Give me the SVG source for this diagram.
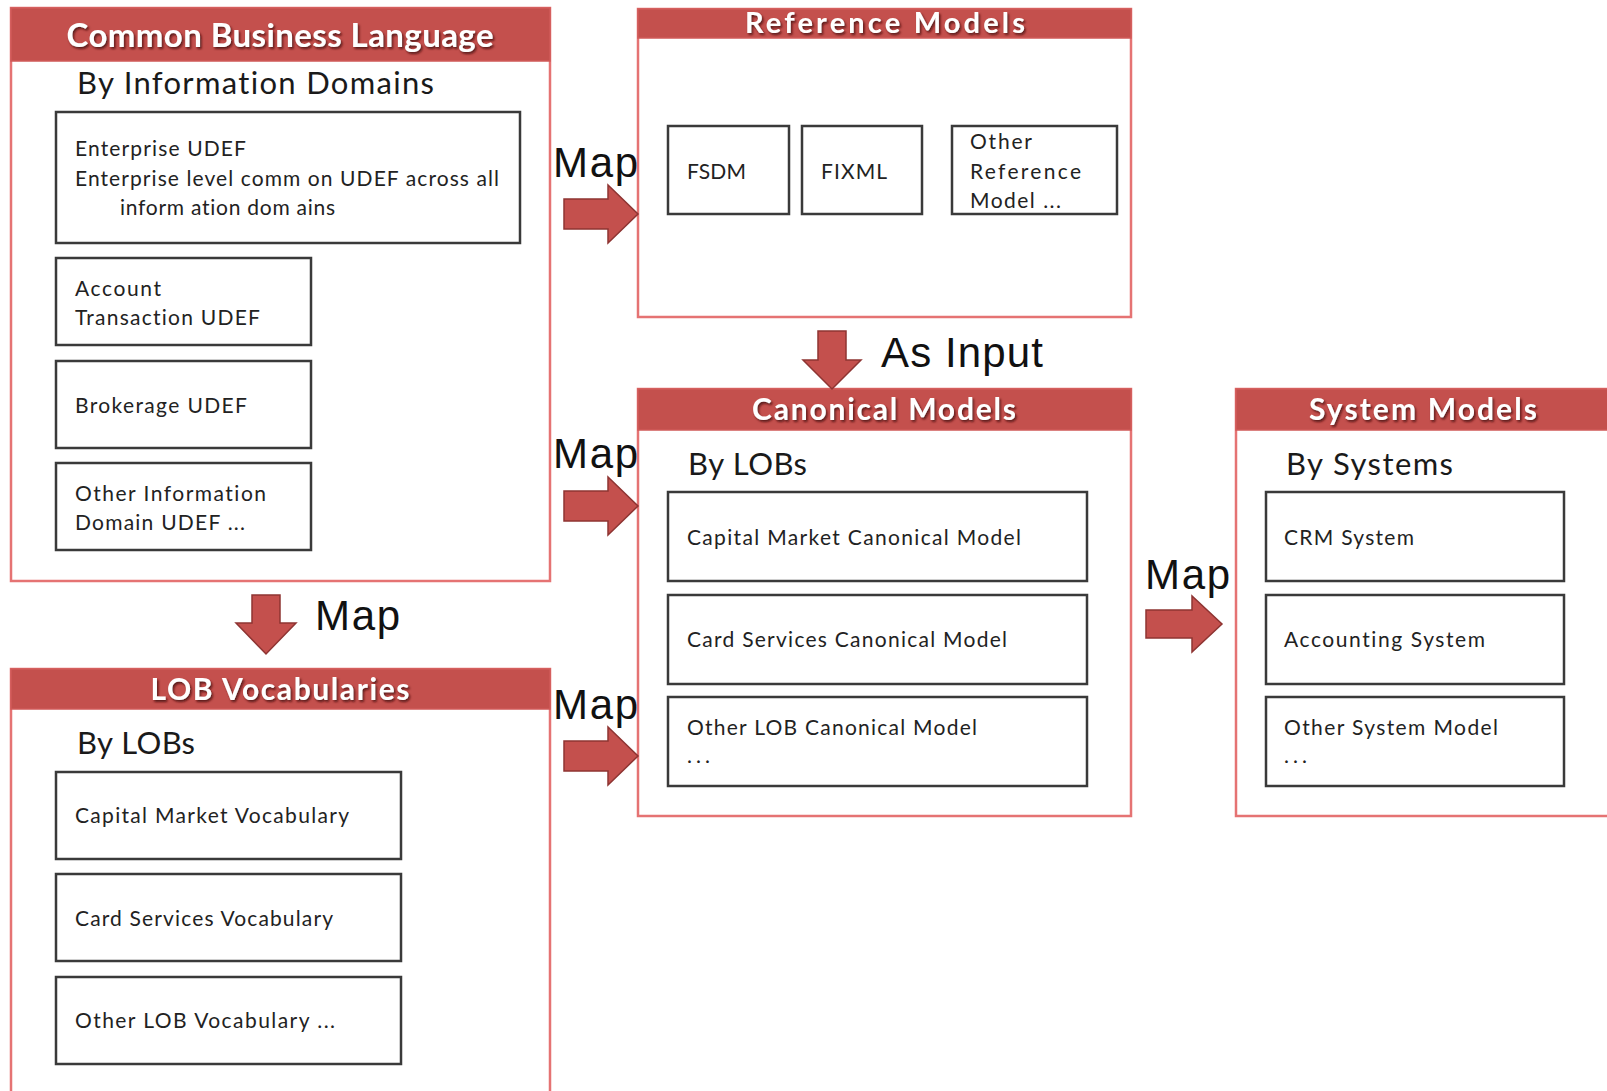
<svg xmlns="http://www.w3.org/2000/svg" width="1607" height="1091" viewBox="0 0 1607 1091">
<defs>
<filter id="sh" x="-5%" y="-20%" width="110%" height="150%">
<feDropShadow dx="1.5" dy="2" stdDeviation="0.8" flood-color="#4a1010" flood-opacity="0.85"/>
</filter>
</defs>
<style>
text{font-variant-ligatures:none}
.outer{fill:#ffffff;stroke:#e57373;stroke-width:2.5}
.hdr{fill:#c4504d;stroke:#d05a58;stroke-width:1.5}
.title{font-family:Lato,"Open Sans",sans-serif;font-weight:bold;fill:#ffffff;text-anchor:middle}
.head{font-family:Lato,"Open Sans",sans-serif;font-size:31px;fill:#1a1a1a}
.inner{fill:#ffffff;stroke:#3a3a3a;stroke-width:2.5}
.t{font-family:Lato,"Open Sans",sans-serif;font-size:21px;fill:#222222}
.map{font-family:"Liberation Sans",Arial,sans-serif;font-size:42px;fill:#111111}
.arrow{fill:#c4504d;stroke:#8e3432;stroke-width:1.5;stroke-linejoin:miter}
</style>

<g id="cbl">
<rect class="outer" x="11" y="8" width="539" height="573"/>
<rect class="hdr" x="11" y="8" width="539" height="53"/>
<text class="title" x="280" y="47" font-size="33" textLength="427" lengthAdjust="spacing" filter="url(#sh)">Common Business Language</text>
<text class="head" x="77" y="94" textLength="357" lengthAdjust="spacing">By Information Domains</text>
</g>
<g id="enterprise-udef">
<rect class="inner" x="56" y="112" width="464" height="131"/>
<text class="t" x="75" y="156" textLength="171" lengthAdjust="spacing">Enterprise UDEF</text>
<text class="t" x="75" y="186" textLength="424" lengthAdjust="spacing">Enterprise level comm on UDEF across all</text>
<text class="t" x="120" y="215" textLength="215" lengthAdjust="spacing">inform ation dom ains</text>
</g>
<g id="account-udef">
<rect class="inner" x="56" y="258" width="255" height="87"/>
<text class="t" x="75" y="296" textLength="86" lengthAdjust="spacing">Account</text>
<text class="t" x="75" y="325" textLength="185" lengthAdjust="spacing">Transaction  UDEF</text>
</g>
<g id="brokerage-udef">
<rect class="inner" x="56" y="361" width="255" height="87"/>
<text class="t" x="75" y="413" textLength="172" lengthAdjust="spacing">Brokerage UDEF</text>
</g>
<g id="other-domain-udef">
<rect class="inner" x="56" y="463" width="255" height="87"/>
<text class="t" x="75" y="501" textLength="191" lengthAdjust="spacing">Other Information</text>
<text class="t" x="75" y="530" textLength="170" lengthAdjust="spacing">Domain UDEF ...</text>
</g>

<g id="reference-models">
<rect class="outer" x="638" y="9" width="493" height="308"/>
<rect class="hdr" x="638" y="9" width="493" height="29"/>
<text class="title" x="885" y="33" font-size="29" textLength="280" lengthAdjust="spacing" filter="url(#sh)">Reference  Models</text>
</g>
<g id="fsdm">
<rect class="inner" x="668" y="126" width="121" height="88"/>
<text class="t" x="687" y="179" textLength="59" lengthAdjust="spacing">FSDM</text>
</g>
<g id="fixml">
<rect class="inner" x="802" y="126" width="120" height="88"/>
<text class="t" x="821" y="179" textLength="66" lengthAdjust="spacing">FIXML</text>
</g>
<g id="other-reference">
<rect class="inner" x="952" y="126" width="165" height="88"/>
<text class="t" x="970" y="149" textLength="62" lengthAdjust="spacing">Other</text>
<text class="t" x="970" y="179" textLength="111" lengthAdjust="spacing">Reference</text>
<text class="t" x="970" y="208" textLength="91" lengthAdjust="spacing">Model ...</text>
</g>

<g id="canonical-models">
<rect class="outer" x="638" y="389" width="493" height="427"/>
<rect class="hdr" x="638" y="389" width="493" height="41"/>
<text class="title" x="884" y="420" font-size="30" textLength="264" lengthAdjust="spacing" filter="url(#sh)">Canonical Models</text>
<text class="head" x="688" y="475" textLength="119" lengthAdjust="spacing">By LOBs</text>
</g>
<g id="capital-market-canonical">
<rect class="inner" x="668" y="492" width="419" height="89"/>
<text class="t" x="687" y="545" textLength="334" lengthAdjust="spacing">Capital Market Canonical  Model</text>
</g>
<g id="card-services-canonical">
<rect class="inner" x="668" y="595" width="419" height="89"/>
<text class="t" x="687" y="647" textLength="320" lengthAdjust="spacing">Card Services Canonical  Model</text>
</g>
<g id="other-lob-canonical">
<rect class="inner" x="668" y="697" width="419" height="89"/>
<text class="t" x="687" y="735" textLength="290" lengthAdjust="spacing">Other LOB Canonical  Model</text>
<text class="t" x="687" y="763" textLength="23" lengthAdjust="spacing">...</text>
</g>

<g id="system-models">
<rect class="outer" x="1236" y="389" width="390" height="427"/>
<rect class="hdr" x="1236" y="389" width="390" height="41"/>
<text class="title" x="1423" y="420" font-size="30" textLength="228" lengthAdjust="spacing" filter="url(#sh)">System Models</text>
<text class="head" x="1286" y="475" textLength="167" lengthAdjust="spacing">By Systems</text>
</g>
<g id="crm-system">
<rect class="inner" x="1266" y="492" width="298" height="89"/>
<text class="t" x="1284" y="545" textLength="130" lengthAdjust="spacing">CRM System</text>
</g>
<g id="accounting-system">
<rect class="inner" x="1266" y="595" width="298" height="89"/>
<text class="t" x="1284" y="647" textLength="201" lengthAdjust="spacing">Accounting System</text>
</g>
<g id="other-system">
<rect class="inner" x="1266" y="697" width="298" height="89"/>
<text class="t" x="1284" y="735" textLength="214" lengthAdjust="spacing">Other System  Model</text>
<text class="t" x="1284" y="763" textLength="23" lengthAdjust="spacing">...</text>
</g>

<g id="lob-vocabularies">
<rect class="outer" x="11" y="669" width="539" height="440"/>
<rect class="hdr" x="11" y="669" width="539" height="40"/>
<text class="title" x="280" y="700" font-size="30" textLength="259" lengthAdjust="spacing" filter="url(#sh)">LOB Vocabularies</text>
<text class="head" x="77" y="754" textLength="118" lengthAdjust="spacing">By LOBs</text>
</g>
<g id="capital-market-vocab">
<rect class="inner" x="56" y="772" width="345" height="87"/>
<text class="t" x="75" y="823" textLength="274" lengthAdjust="spacing">Capital Market Vocabulary</text>
</g>
<g id="card-services-vocab">
<rect class="inner" x="56" y="874" width="345" height="87"/>
<text class="t" x="75" y="926" textLength="258" lengthAdjust="spacing">Card Services Vocabulary</text>
</g>
<g id="other-lob-vocab">
<rect class="inner" x="56" y="977" width="345" height="87"/>
<text class="t" x="75" y="1028" textLength="260" lengthAdjust="spacing">Other LOB Vocabulary  ...</text>
</g>

<g id="connectors">
<path class="arrow" d="M564,199 H608 V185 L638,214 L608,243 V229 H564 Z"/>
<text class="map" x="553" y="177" textLength="85" lengthAdjust="spacing">Map</text>
<path class="arrow" d="M564,491 H608 V477 L638,506 L608,535 V521 H564 Z"/>
<text class="map" x="553" y="468" textLength="85" lengthAdjust="spacing">Map</text>
<path class="arrow" d="M564,741 H608 V727 L638,756 L608,785 V771 H564 Z"/>
<text class="map" x="553" y="719" textLength="85" lengthAdjust="spacing">Map</text>
<path class="arrow" d="M252,595 V623 H236 L266,654 L296,623 H280 V595 Z"/>
<text class="map" x="315" y="630" textLength="85" lengthAdjust="spacing">Map</text>
<path class="arrow" d="M818,331 V360 H803 L832,389 L861,360 H846 V331 Z"/>
<text class="map" x="881" y="367" textLength="162" lengthAdjust="spacing">As Input</text>
<path class="arrow" d="M1146,610 H1192 V596 L1222,624 L1192,652 V638 H1146 Z"/>
<text class="map" x="1145" y="589" textLength="85" lengthAdjust="spacing">Map</text>
</g>
</svg>
